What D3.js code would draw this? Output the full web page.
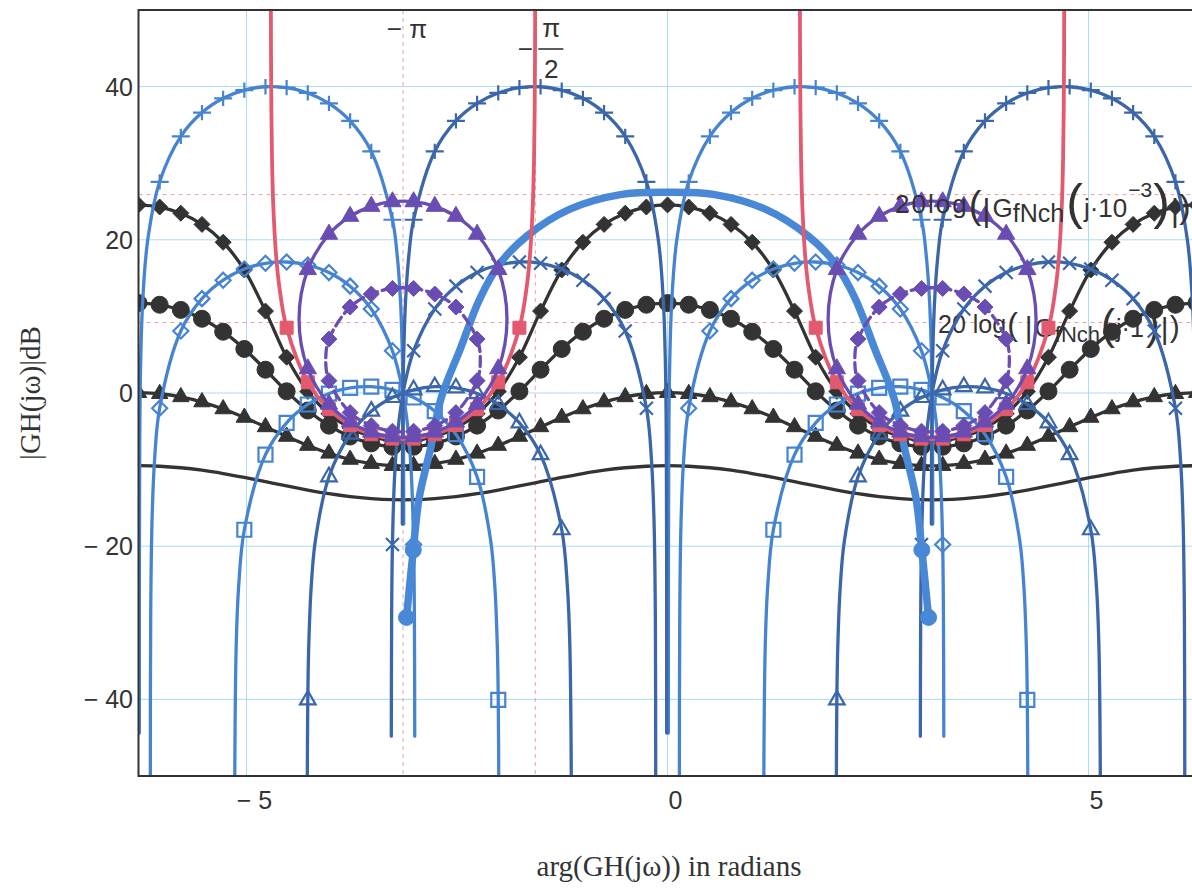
<!DOCTYPE html>
<html><head><meta charset="utf-8">
<script src="https://cdn.jsdelivr.net/npm/d3@7/dist/d3.min.js"></script>
<style>html,body{margin:0;padding:0;background:#fff}svg{display:block}</style>
</head><body>
<svg id="chart" width="1192" height="889"></svg>
<script>
// ================= DATA =================
// phase grid (radians) on which Mathematica placed its plot markers
const phaseGrid = [-6.2832,-6.0319,-5.7805,-5.5292,-5.2779,-5.0265,-4.7752,-4.5239,-4.2726,-4.0212,-3.7699,-3.5186,-3.2673,-3.0159,-2.7646,-2.5133,-2.2619,-2.0106,-1.7593,-1.5080,-1.2566,-1.0053,-0.7540,-0.5027,-0.2513,0,0.2513,0.5027,0.7540,1.0053,1.2566,1.5080,1.7593,2.0106,2.2619,2.5133,2.7646,3.0159,3.2673,3.5186,3.7699,4.0212,4.2726,4.5239,4.7752,5.0265,5.2779,5.5292,5.7805,6.0319,6.2832];
const xTicks = [-5, 0, 5];
const yTicks = [-40, -20, 0, 20, 40];
const refPhases = [-Math.PI, -Math.PI / 2];
const refLevels = [25.9, 9.2];

// closed-loop magnitude contours below 1 (dB values on phaseGrid)
const mMinus05 = [24.55,24.28,23.47,22.01,19.68,16.06,10.69,4.67,0.21,-2.70,-4.56,-5.68,-6.21,-6.21,-5.68,-4.56,-2.70,0.21,4.67,10.69,16.06,19.68,22.01,23.47,24.28,24.55,24.28,23.47,22.01,19.68,16.06,10.69,4.67,0.21,-2.70,-4.56,-5.68,-6.21,-6.21,-5.68,-4.56,-2.70,0.21,4.67,10.69,16.06,19.68,22.01,23.47,24.28,24.55];
const mMinus2 = [11.74,11.52,10.85,9.69,8.00,5.75,3.04,0.22,-2.29,-4.26,-5.68,-6.58,-7.02,-7.02,-6.58,-5.68,-4.26,-2.29,0.22,3.04,5.75,8.00,9.69,10.85,11.52,11.74,11.52,10.85,9.69,8.00,5.75,3.04,0.22,-2.29,-4.26,-5.68,-6.58,-7.02,-7.02,-6.58,-5.68,-4.26,-2.29,0.22,3.04,5.75,8.00,9.69,10.85,11.52,11.74];
const mMinus6 = [0.04,-0.10,-0.51,-1.18,-2.09,-3.20,-4.43,-5.68,-6.86,-7.88,-8.68,-9.22,-9.49,-9.49,-9.22,-8.68,-7.88,-6.86,-5.68,-4.43,-3.20,-2.09,-1.18,-0.51,-0.10,0.04,-0.10,-0.51,-1.18,-2.09,-3.20,-4.43,-5.68,-6.86,-7.88,-8.68,-9.22,-9.49,-9.49,-9.22,-8.68,-7.88,-6.86,-5.68,-4.43,-3.20,-2.09,-1.18,-0.51,-0.10,0.04];
const mMinus12 = [-9.49,-9.56,-9.76,-10.08,-10.51,-11.02,-11.58,-12.14,-12.67,-13.15,-13.53,-13.79,-13.93,-13.93,-13.79,-13.53,-13.15,-12.67,-12.14,-11.58,-11.02,-10.51,-10.08,-9.76,-9.56,-9.49,-9.56,-9.76,-10.08,-10.51,-11.02,-11.58,-12.14,-12.67,-13.15,-13.53,-13.79,-13.93,-13.93,-13.79,-13.53,-13.15,-12.67,-12.14,-11.58,-11.02,-10.51,-10.08,-9.76,-9.56,-9.49];

// closed loops (phase, dB) : +0.5 dB and +2 dB
const mPlus05Left = [[-4.3764,9.64],[-4.2726,16.11],[-4.0212,20.73],[-3.7699,23.07],[-3.5186,24.37],[-3.2673,24.97],[-3.0159,24.97],[-2.7646,24.37],[-2.5133,23.07],[-2.2619,20.73],[-2.0106,16.11],[-1.9068,9.64],[-2.0106,3.16],[-2.2619,-1.46],[-2.5133,-3.79],[-2.7646,-5.10],[-3.0159,-5.70],[-3.2673,-5.70],[-3.5186,-5.10],[-3.7699,-3.79],[-4.0212,-1.46],[-4.2726,3.16]];
const mPlus05Right = [[1.9068,9.64],[2.0106,16.11],[2.2619,20.73],[2.5133,23.07],[2.7646,24.37],[3.0159,24.97],[3.2673,24.97],[3.5186,24.37],[3.7699,23.07],[4.0212,20.73],[4.2726,16.11],[4.3764,9.64],[4.2726,3.16],[4.0212,-1.46],[3.7699,-3.79],[3.5186,-5.10],[3.2673,-5.70],[3.0159,-5.70],[2.7646,-5.10],[2.5133,-3.79],[2.2619,-1.46],[2.0106,3.16]];
const mPlus2Left = [[-4.0594,4.33],[-4.0212,7.04],[-3.7699,11.22],[-3.5186,12.92],[-3.2673,13.65],[-3.0159,13.65],[-2.7646,12.92],[-2.5133,11.22],[-2.2619,7.04],[-2.2238,4.33],[-2.2619,1.61],[-2.5133,-2.56],[-2.7646,-4.26],[-3.0159,-4.99],[-3.2673,-4.99],[-3.5186,-4.26],[-3.7699,-2.56],[-4.0212,1.61]];
const mPlus2Right = [[2.2238,4.33],[2.2619,7.04],[2.5133,11.22],[2.7646,12.92],[3.0159,13.65],[3.2673,13.65],[3.5186,12.92],[3.7699,11.22],[4.0212,7.04],[4.0594,4.33],[4.0212,1.61],[3.7699,-2.56],[3.5186,-4.26],[3.2673,-4.99],[3.0159,-4.99],[2.7646,-4.26],[2.5133,-2.56],[2.2619,1.61]];

// 0 dB contour (red)
const m0Left = [[-4.7114,53.98],[-4.7094,44.44],[-4.7054,37.08],[-4.6974,30.46],[-4.6824,24.44],[-4.6524,18.42],[-4.6124,13.99],[-4.5239,8.52],[-4.2726,1.40],[-4.0212,-2.11],[-3.7699,-4.18],[-3.5186,-5.39],[-3.2673,-5.95],[-3.0159,-5.95],[-2.7646,-5.39],[-2.5133,-4.18],[-2.2619,-2.11],[-2.0106,1.40],[-1.7593,8.52],[-1.6708,13.99],[-1.6308,18.42],[-1.6008,24.44],[-1.5858,30.46],[-1.5778,37.08],[-1.5738,44.44],[-1.5718,53.98]];
const m0Right = [[1.5718,53.98],[1.5738,44.44],[1.5778,37.08],[1.5858,30.46],[1.6008,24.44],[1.6308,18.42],[1.6708,13.99],[1.7593,8.52],[2.0106,1.40],[2.2619,-2.11],[2.5133,-4.18],[2.7646,-5.39],[3.0159,-5.95],[3.2673,-5.95],[3.5186,-5.39],[3.7699,-4.18],[4.0212,-2.11],[4.2726,1.40],[4.5239,8.52],[4.6124,13.99],[4.6524,18.42],[4.6824,24.44],[4.6974,30.46],[4.7054,37.08],[4.7094,44.44],[4.7114,53.98]];

// closed-loop phase contours (phase, dB)
const nPlusSmallA = [[-6.2731,-44.4],[-6.2722,-20.0],[-6.2682,-6.0],[-6.2582,3.5],[-6.2332,12.0],[-6.1732,20.0],[-6.0319,27.57],[-5.7805,33.50],[-5.5292,36.61],[-5.2779,38.47],[-5.0265,39.54],[-4.7752,39.98],[-4.5239,39.86],[-4.2726,39.17],[-4.0212,37.81],[-3.7699,35.52],[-3.5186,31.54],[-3.2673,22.62],[-3.2116,18.05],[-3.1716,12.0],[-3.1466,3.5],[-3.1366,-6.0],[-3.1330,-17.1]];
const nPlusSmallB = [[0.0101,-44.4],[0.0110,-20.0],[0.0150,-6.0],[0.0250,3.5],[0.0500,12.0],[0.1100,20.0],[0.2513,27.57],[0.5027,33.50],[0.7540,36.61],[1.0053,38.47],[1.2566,39.54],[1.5080,39.98],[1.7593,39.86],[2.0106,39.17],[2.2619,37.81],[2.5133,35.52],[2.7646,31.54],[3.0159,22.62],[3.0716,18.05],[3.1116,12.0],[3.1366,3.5],[3.1466,-6.0],[3.1502,-17.1]];
const nMinusSmallA = [[-3.1502,-17.1],[-3.1466,-6.0],[-3.1366,3.5],[-3.1116,12.0],[-3.0716,18.05],[-3.0159,22.62],[-2.7646,31.54],[-2.5133,35.52],[-2.2619,37.81],[-2.0106,39.17],[-1.7593,39.86],[-1.5080,39.98],[-1.2566,39.54],[-1.0053,38.47],[-0.7540,36.61],[-0.5027,33.50],[-0.2513,27.57],[-0.1100,20.0],[-0.0500,12.0],[-0.0250,3.5],[-0.0150,-6.0],[-0.0110,-20.0],[-0.0101,-44.4]];
const nMinusSmallB = [[3.1330,-17.1],[3.1366,-6.0],[3.1466,3.5],[3.1716,12.0],[3.2116,18.05],[3.2673,22.62],[3.5186,31.54],[3.7699,35.52],[4.0212,37.81],[4.2726,39.17],[4.5239,39.86],[4.7752,39.98],[5.0265,39.54],[5.2779,38.47],[5.5292,36.61],[5.7805,33.50],[6.0319,27.57],[6.1732,20.0],[6.2332,12.0],[6.2582,3.5],[6.2682,-6.0],[6.2722,-20.0],[6.2731,-44.4]];

const nPlusMidA = [[-6.1429,-53.4],[-6.1382,-28.9],[-6.1232,-16.9],[-6.0932,-8.9],[-6.0319,-1.98],[-5.7805,8.10],[-5.5292,12.32],[-5.2779,14.73],[-5.0265,16.18],[-4.7752,16.93],[-4.5239,17.10],[-4.2726,16.71],[-4.0212,15.72],[-3.7699,13.95],[-3.5186,10.97],[-3.2673,5.51],[-3.1516,0.59],[-3.0816,-4.84],[-3.0416,-10.85],[-3.0159,-19.77],[-3.0066,-28.9],[-3.0024,-44.8]];
const nPlusMidB = [[0.1403,-53.4],[0.1450,-28.9],[0.1600,-16.9],[0.1900,-8.9],[0.2513,-1.98],[0.5027,8.10],[0.7540,12.32],[1.0053,14.73],[1.2566,16.18],[1.5080,16.93],[1.7593,17.10],[2.0106,16.71],[2.2619,15.72],[2.5133,13.95],[2.7646,10.97],[3.0159,5.51],[3.1316,0.59],[3.2016,-4.84],[3.2416,-10.85],[3.2673,-19.77],[3.2766,-28.9],[3.2808,-44.8]];
const nMinusMidA = [[-3.2808,-44.8],[-3.2766,-28.9],[-3.2673,-19.77],[-3.2416,-10.85],[-3.2016,-4.84],[-3.1316,0.59],[-3.0159,5.51],[-2.7646,10.97],[-2.5133,13.95],[-2.2619,15.72],[-2.0106,16.71],[-1.7593,17.10],[-1.5080,16.93],[-1.2566,16.18],[-1.0053,14.73],[-0.7540,12.32],[-0.5027,8.10],[-0.2513,-1.98],[-0.1900,-8.9],[-0.1600,-16.9],[-0.1450,-28.9],[-0.1403,-53.4]];
const nMinusMidB = [[3.0024,-44.8],[3.0066,-28.9],[3.0159,-19.77],[3.0416,-10.85],[3.0816,-4.84],[3.1516,0.59],[3.2673,5.51],[3.5186,10.97],[3.7699,13.95],[4.0212,15.72],[4.2726,16.71],[4.5239,17.10],[4.7752,16.93],[5.0265,16.18],[5.2779,14.73],[5.5292,12.32],[5.7805,8.10],[6.0319,-1.98],[6.0932,-8.9],[6.1232,-16.9],[6.1382,-28.9],[6.1429,-53.4]];

const nPlusLargeA = [[-5.1412,-53.15],[-5.1232,-33.15],[-5.0932,-25.19],[-5.0265,-17.85],[-4.7752,-8.05],[-4.5239,-3.89],[-4.2726,-1.50],[-4.0212,-0.07],[-3.7699,0.66],[-3.5186,0.82],[-3.2673,0.42],[-3.0159,-0.59],[-2.7646,-2.37],[-2.5133,-5.38],[-2.2619,-10.94],[-2.1016,-19.18],[-2.0516,-25.19],[-2.0216,-33.15],[-2.0106,-40.06],[-2.0036,-53.15]];
const nPlusLargeB = [[1.1420,-53.15],[1.1600,-33.15],[1.1900,-25.19],[1.2566,-17.85],[1.5080,-8.05],[1.7593,-3.89],[2.0106,-1.50],[2.2619,-0.07],[2.5133,0.66],[2.7646,0.82],[3.0159,0.42],[3.2673,-0.59],[3.5186,-2.37],[3.7699,-5.38],[4.0212,-10.94],[4.1816,-19.18],[4.2316,-25.19],[4.2616,-33.15],[4.2726,-40.06],[4.2796,-53.15]];
const nMinusLargeA = [[-4.2796,-53.15],[-4.2726,-40.06],[-4.2616,-33.15],[-4.2316,-25.19],[-4.1816,-19.18],[-4.0212,-10.94],[-3.7699,-5.38],[-3.5186,-2.37],[-3.2673,-0.59],[-3.0159,0.42],[-2.7646,0.82],[-2.5133,0.66],[-2.2619,-0.07],[-2.0106,-1.50],[-1.7593,-3.89],[-1.5080,-8.05],[-1.2566,-17.85],[-1.1900,-25.19],[-1.1600,-33.15],[-1.1420,-53.15]];
const nMinusLargeB = [[2.0036,-53.15],[2.0106,-40.06],[2.0216,-33.15],[2.0516,-25.19],[2.1016,-19.18],[2.2619,-10.94],[2.5133,-5.38],[2.7646,-2.37],[3.0159,-0.59],[3.2673,0.42],[3.5186,0.82],[3.7699,0.66],[4.0212,-0.07],[4.2726,-1.50],[4.5239,-3.89],[4.7752,-8.05],[5.0265,-17.85],[5.0932,-25.19],[5.1232,-33.15],[5.1412,-53.15]];

// open-loop curve G_fNch (thick)
const gfnch = [[-3.10,-29.3],[-3.02,-20.5],[-2.95,-13.7],[-2.81,-7.0],[-2.69,-0.7],[-2.46,5.8],[-2.23,12.3],[-1.99,16.9],[-1.67,20.5],[-1.16,24.0],[-0.56,25.9],[0,26.2],[0.56,25.9],[1.16,24.0],[1.67,20.5],[1.99,16.9],[2.23,12.3],[2.46,5.8],[2.69,-0.7],[2.81,-7.0],[2.95,-13.7],[3.02,-20.5],[3.10,-29.3]];
const gfnchMarks = [[-3.10,-29.3],[-3.02,-20.5],[3.02,-20.5],[3.10,-29.3]];

// ================= RENDER =================
const svg = d3.select('#chart');
const x = d3.scaleLinear().domain([-2 * Math.PI, 2 * Math.PI]).range([138.5, 1196.6]);
const y = d3.scaleLinear().domain([-50, 50]).range([776, 10]);
const L = 138.5, R = 1192, T = y(50), B = y(-50);

const SANS = "'Liberation Sans', Arial, sans-serif";
const SERIF = "'Liberation Serif', 'Times New Roman', serif";
const TXT = '#333';

svg.append('defs').append('clipPath').attr('id', 'clip')
  .append('rect').attr('x', L).attr('y', T).attr('width', R - L + 10).attr('height', B - T);

const plot = svg.append('g').attr('clip-path', 'url(#clip)');

// grid
const gridC = '#a9dcef';
plot.selectAll('.gx').data(xTicks).join('line')
  .attr('x1', d => x(d)).attr('x2', d => x(d)).attr('y1', T).attr('y2', B)
  .attr('stroke', gridC).attr('stroke-width', 1);
plot.selectAll('.gy').data(yTicks).join('line')
  .attr('x1', L).attr('x2', R + 10).attr('y1', d => y(d)).attr('y2', d => y(d))
  .attr('stroke', gridC).attr('stroke-width', 1);
const refC = '#e6a3ad';
plot.selectAll('.rx').data(refPhases).join('line')
  .attr('x1', d => x(d)).attr('x2', d => x(d)).attr('y1', T).attr('y2', B)
  .attr('stroke', refC).attr('stroke-width', 1).attr('stroke-dasharray', '4,4');
plot.selectAll('.ry').data(refLevels).join('line')
  .attr('x1', L).attr('x2', R + 10).attr('y1', d => y(d)).attr('y2', d => y(d))
  .attr('stroke', refC).attr('stroke-width', 1).attr('stroke-dasharray', '4,4');

// one label built from flowing tspans (no overlaps between pieces)
function richLabel(g, x0, y0, parts) {
  const t = g.append('text').attr('x', x0).attr('y', y0)
    .attr('font-family', SANS).attr('fill', TXT);
  let prevDy = 0;
  parts.forEach(p => {
    const dy = (p.dy || 0) - prevDy;
    prevDy = p.dy || 0;
    t.append('tspan').attr('dx', p.dx || 0).attr('dy', dy)
      .attr('font-size', p.fs).attr('letter-spacing', p.ls || 0).text(p.t);
  });
}

// second label (beneath curves)
richLabel(plot.append('g'), 938, 333, [
  {t: '20 log', fs: 25},
  {t: '(', fs: 32, dy: 2, dx: 1},
  {t: '|', fs: 30, dy: 5, dx: 7},
  {t: 'G', fs: 26, dy: 4, dx: 2},
  {t: 'fNch', fs: 22, dy: 9},
  {t: '(', fs: 42, dy: 6, dx: 1},
  {t: 'j·1', fs: 25, dy: 4, dx: 1},
  {t: ')', fs: 42, dy: 6, dx: 2},
  {t: '|', fs: 30, dy: 6, dx: 1},
  {t: ')', fs: 30, dy: 4, dx: 1}
]);

const lineGen = d3.line().x(d => x(d[0])).y(d => y(d[1])).curve(d3.curveCatmullRom.alpha(0.5));
const loopGen = d3.line().x(d => x(d[0])).y(d => y(d[1])).curve(d3.curveCatmullRomClosed.alpha(0.5));

const shapes = {
  diamond: r => `M0,${-r}L${r},0L0,${r}L${-r},0Z`,
  triangle: r => `M0,${-r}L${r * 0.866},${r * 0.5}L${-r * 0.866},${r * 0.5}Z`,
  square: r => `M${-r},${-r}H${r}V${r}H${-r}Z`,
  circle: r => `M${r},0A${r},${r} 0 1,1 ${-r},0A${r},${r} 0 1,1 ${r},0Z`,
  plus: r => `M${-r},0H${r}M0,${-r * 0.85}V${r * 0.85}`,
  cross: r => `M${-r},${-r}L${r},${r}M${-r},${r}L${r},${-r}`
};
const onGrid = p => phaseGrid.some(g => Math.abs(g - p[0]) < 0.002);

function series(pts, o) {
  const g = plot.append('g');
  g.append('path').attr('d', (o.closed ? loopGen : lineGen)(pts))
    .attr('fill', 'none').attr('stroke', o.color).attr('stroke-width', o.width)
    .attr('stroke-dasharray', o.dash || null).attr('stroke-linejoin', 'round').attr('stroke-linecap', 'round');
  if (o.marker) {
    const mk = (o.marks || pts.filter(onGrid)).filter(p => p[1] > -52 && p[1] < 52);
    const hollow = o.open || o.marker === 'plus' || o.marker === 'cross';
    g.selectAll('path.m').data(mk).join('path').attr('class', 'm')
      .attr('transform', d => `translate(${x(d[0])},${y(d[1])})`)
      .attr('d', shapes[o.marker](o.size))
      .attr('fill', hollow ? 'none' : o.color)
      .attr('stroke', o.color).attr('stroke-width', hollow ? 2.2 : 1);
  }
}
const onGridSeries = vals => phaseGrid.map((p, i) => [p, vals[i]]);

const BLACK = '#333333', LIGHT = '#4684d2', DARK = '#3b66aa', PURPLE = '#6a4db2', RED = '#e35a6f', THICK = '#4888d6';

series(onGridSeries(mMinus12), {color: BLACK, width: 3.3});
series(onGridSeries(mMinus6), {color: BLACK, width: 3.3, marker: 'triangle', size: 9.5});
series(onGridSeries(mMinus2), {color: BLACK, width: 3.3, marker: 'circle', size: 8.5});
series(onGridSeries(mMinus05), {color: BLACK, width: 3.3, marker: 'diamond', size: 8});

// phase contours
series(nPlusLargeA, {color: LIGHT, width: 3.3, marker: 'square', size: 7, open: true});
series(nPlusLargeB, {color: LIGHT, width: 3.3, marker: 'square', size: 7, open: true});
series(nMinusLargeA, {color: DARK, width: 3.3, marker: 'triangle', size: 9, open: true});
series(nMinusLargeB, {color: DARK, width: 3.3, marker: 'triangle', size: 9, open: true});
series(nPlusMidA, {color: LIGHT, width: 3.3, marker: 'diamond', size: 7.5, open: true});
series(nPlusMidB, {color: LIGHT, width: 3.3, marker: 'diamond', size: 7.5, open: true});
series(nMinusMidA, {color: DARK, width: 3.3, marker: 'cross', size: 6.5});
series(nMinusMidB, {color: DARK, width: 3.3, marker: 'cross', size: 6.5});
series(nPlusSmallA, {color: LIGHT, width: 3.3, marker: 'plus', size: 9});
series(nPlusSmallB, {color: LIGHT, width: 3.3, marker: 'plus', size: 9});
series(nMinusSmallA, {color: DARK, width: 3.3, marker: 'plus', size: 9});
series(nMinusSmallB, {color: DARK, width: 3.3, marker: 'plus', size: 9});

// open-loop curve
series(gfnch, {color: THICK, width: 7.5, marker: 'circle', size: 8, marks: gfnchMarks});

// 0 dB contour
series(m0Left, {color: RED, width: 3.8, marker: 'square', size: 6.5});
series(m0Right, {color: RED, width: 3.8, marker: 'square', size: 6.5});

// closed loops
series(mPlus05Left, {color: PURPLE, width: 3.3, closed: true, marker: 'triangle', size: 10});
series(mPlus05Right, {color: PURPLE, width: 3.3, closed: true, marker: 'triangle', size: 10});
series(mPlus2Left, {color: PURPLE, width: 3.3, closed: true, dash: '10,5', marker: 'diamond', size: 8});
series(mPlus2Right, {color: PURPLE, width: 3.3, closed: true, dash: '10,5', marker: 'diamond', size: 8});

// first label (on top)
richLabel(plot.append('g'), 895, 213, [
  {t: '20log', fs: 26, ls: 2},
  {t: '(', fs: 38, dy: 5, dx: 0},
  {t: '|', fs: 32, dy: 8, dx: 1},
  {t: 'G', fs: 26, dy: 4, dx: 2},
  {t: 'fNch', fs: 25, dy: 9},
  {t: '(', fs: 50, dy: 6, dx: 2},
  {t: 'j·10', fs: 26, dy: 4, dx: 1},
  {t: '\u22123', fs: 21, dy: -16, dx: 1},
  {t: ')', fs: 50, dy: 6, dx: 1},
  {t: '|', fs: 32, dy: 8, dx: 1},
  {t: ')', fs: 34, dy: 5, dx: 0}
]);

// frame
svg.append('path')
  .attr('d', `M${R + 5},${T}H${L}V${B}H${R + 5}`)
  .attr('fill', 'none').attr('stroke', '#333').attr('stroke-width', 2);

// tick labels
const fmt = v => v < 0 ? '\u2212 ' + Math.abs(v) : String(v);
svg.selectAll('.yt').data(yTicks).join('text')
  .attr('x', 133).attr('y', d => y(d)).attr('dy', '0.36em')
  .attr('text-anchor', 'end').attr('font-family', SANS).attr('font-size', 25).attr('fill', TXT)
  .text(fmt);
svg.selectAll('.xt').data(xTicks).join('text')
  .attr('x', d => x(d) + 8).attr('y', 809)
  .attr('text-anchor', 'middle').attr('font-family', SANS).attr('font-size', 25).attr('fill', TXT)
  .text(fmt);

// top special ticks: -π and -π/2
svg.append('text').attr('x', x(refPhases[0]) + 4).attr('y', 38).attr('text-anchor', 'middle')
  .attr('font-family', SANS).attr('font-size', 26).attr('fill', TXT).text('\u2212 \u03c0');
const hx = x(refPhases[1]);
svg.append('text').attr('x', hx - 10).attr('y', 58).attr('text-anchor', 'middle')
  .attr('font-family', SANS).attr('font-size', 26).attr('fill', TXT).text('\u2212');
svg.append('text').attr('x', hx + 16).attr('y', 37).attr('text-anchor', 'middle')
  .attr('font-family', SANS).attr('font-size', 26).attr('fill', TXT).text('\u03c0');
svg.append('line').attr('x1', hx + 3).attr('x2', hx + 28).attr('y1', 49).attr('y2', 49)
  .attr('stroke', TXT).attr('stroke-width', 1.6);
svg.append('text').attr('x', hx + 16).attr('y', 78).attr('text-anchor', 'middle')
  .attr('font-family', SANS).attr('font-size', 26).attr('fill', TXT).text('2');

// axis titles
svg.append('text').attr('x', 669).attr('y', 876).attr('text-anchor', 'middle')
  .attr('font-family', SERIF).attr('font-size', 29).attr('fill', TXT)
  .text('arg(GH(j\u03c9)) in radians');
svg.append('text').attr('transform', 'translate(40,393) rotate(-90)').attr('text-anchor', 'middle')
  .attr('font-family', SERIF).attr('font-size', 29).attr('fill', TXT)
  .text('|GH(j\u03c9)|dB');
</script>
</body></html>
